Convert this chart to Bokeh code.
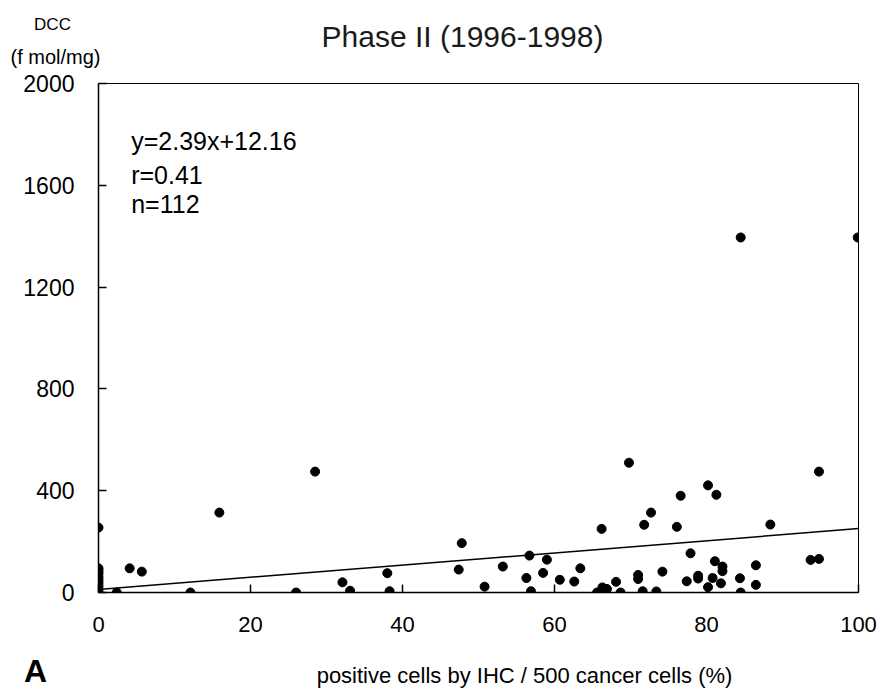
from bokeh.plotting import figure
from bokeh.models import Label, FixedTicker, Range1d
from bokeh.embed import file_html
from bokeh.resources import INLINE

# ---- data ----
x_pct = [0, 0, 0, 0, 0, 0, 0, 0, 0, 0,
         2.4, 4.1, 5.7, 12.1, 15.9, 26.0, 28.5, 32.1, 33.1, 38.0, 38.3,
         47.4, 47.8, 50.8, 53.2, 56.3, 56.7, 56.9, 58.5, 59.0, 60.7, 62.6, 63.4,
         65.6, 66.2, 66.3, 66.9, 68.1, 68.7, 69.8, 71.0, 71.0, 71.6, 71.8, 72.7,
         73.4, 74.2, 76.1, 76.6, 77.4, 77.9, 78.9, 78.9, 80.2, 80.2, 80.8, 81.1,
         81.3, 81.9, 82.1, 82.1, 84.4, 84.5, 84.5, 86.5, 86.5, 88.4, 93.7, 94.8,
         94.8, 99.9]
y_dcc = [255, 95, 85, 75, 62, 50, 38, 25, 12, 0,
         0, 95, 82, 0, 314, 0, 475, 40, 7, 76, 5,
         90, 194, 23, 102, 57, 145, 5, 77, 129, 50, 43, 95,
         0, 250, 20, 14, 42, 0, 510, 69, 53, 5, 266, 314,
         4, 82, 258, 380, 44, 154, 66, 55, 421, 21, 57, 123,
         384, 36, 102, 84, 56, 0, 1395, 107, 30, 267, 128, 132,
         475, 1395]

x_ticks = [0, 20, 40, 60, 80, 100]
y_ticks = [0, 400, 800, 1200, 1600, 2000]

slope = 2.39
intercept = 12.16
fit_x = [0, 100]
fit_y = [slope * v + intercept for v in fit_x]

title_text = "Phase II (1996-1998)"
y_unit_line1 = "DCC"
y_unit_line2 = "(f mol/mg)"
x_title = "positive cells by IHC / 500 cancer cells (%)"
panel_letter = "A"
stats_lines = ["y=2.39x+12.16", "r=0.41", "n=112"]

FONT = "Liberation Sans"

p = figure(width=883, height=689, output_backend="svg", toolbar_location=None,
           x_range=Range1d(0, 100), y_range=Range1d(0, 2000),
           min_border_left=98, min_border_right=25,
           min_border_top=83, min_border_bottom=97,
           background_fill_color="white", border_fill_color="white")

p.xgrid.visible = False
p.ygrid.visible = False
p.outline_line_color = "black"
p.outline_line_width = 1

for ax, ticks in ((p.xaxis, x_ticks), (p.yaxis, y_ticks)):
    ax.ticker = FixedTicker(ticks=ticks)
    ax.major_tick_in = 8
    ax.major_tick_out = 0
    ax.minor_tick_line_color = None
    ax.axis_line_color = "black"
    ax.axis_line_width = 1.5
    ax.major_tick_line_color = "black"
    ax.major_tick_line_width = 1.5
    ax.major_label_text_color = "black"
    ax.major_label_text_font = FONT
    ax.major_label_standoff = 24

p.yaxis.major_label_text_font_size = "23px"
p.xaxis.major_label_text_font_size = "22px"

# regression line and points
p.line(fit_x, fit_y, line_color="black", line_width=1.5)
p.scatter(x_pct, y_dcc, size=9, fill_color="black", line_color="black")

# text outside the frame: canvas units (pixels from the top-left corner),
# placed in side panels so that they are not clipped to the frame
def canvas_label(x, y, text, size, place, align="center", style="normal", color="black"):
    p.add_layout(Label(x=x, y=y, x_units="canvas", y_units="canvas", text=text,
                       text_font=FONT, text_font_size=size, text_align=align,
                       text_baseline="middle", text_color=color,
                       text_font_style=style), place)

canvas_label(462, 36, title_text, "30px", "above", color="#1a1a1a")
canvas_label(52, 24, y_unit_line1, "17px", "above")
canvas_label(55, 56, y_unit_line2, "20px", "above")
canvas_label(524, 675, x_title, "22px", "below")
canvas_label(35, 670, panel_letter, "32px", "right", style="bold")

# statistics text inside the frame (data units)
stats_y = [1776, 1640, 1528]
for t, yy in zip(stats_lines, stats_y):
    p.add_layout(Label(x=4.3, y=yy, text=t, text_font=FONT, text_font_size="25px",
                       text_align="left", text_baseline="middle", text_color="black"))

open("out.html", "w").write(file_html(p, INLINE))
